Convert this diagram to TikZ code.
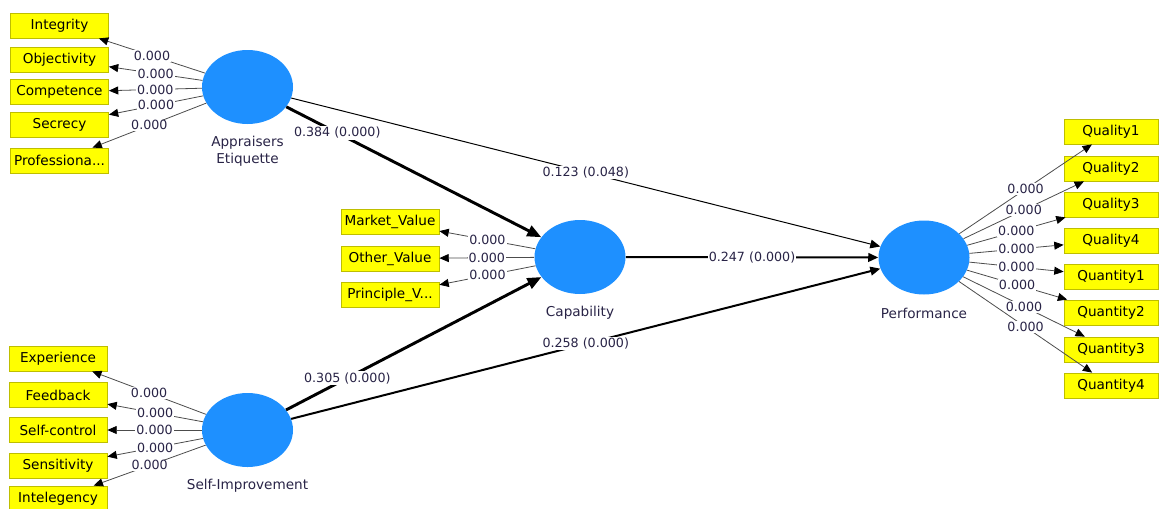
\documentclass[tikz,border=0pt]{standalone}
\usepackage{fontspec}
\setmainfont{DejaVu Sans}
\usepackage{xcolor}
\usepackage{tikz}
\usetikzlibrary{shapes.geometric,arrows.meta,positioning}
\definecolor{lvblue}{RGB}{30,144,255}
\definecolor{indyellow}{RGB}{255,255,0}
\definecolor{indedge}{RGB}{190,190,0}
\definecolor{numtext}{RGB}{40,35,70}
\tikzstyle{latent} = [ellipse, fill=lvblue, minimum width=68.25pt, minimum height=55.5pt, inner sep=0pt]
\tikzstyle{latname} = [text=numtext, font=\fontsize{10.2}{12.75}\selectfont, align=center, inner sep=0pt]
\tikzstyle{indbox} = [rectangle, fill=indyellow, draw=indedge, line width=0.6pt, minimum width=73.5pt, minimum height=18.75pt, inner sep=0pt, font=\fontsize{10.2}{12}\selectfont, text=black]
\tikzstyle{rbox} = [indbox, minimum width=70.5pt]
\tikzstyle{load} = [-{Stealth[length=7pt, width=6pt, inset=0pt, color=black]}, draw=black!70, line width=0.6pt]
\tikzstyle{arrow} = [-{Stealth[length=7.5pt, width=6.5pt, inset=0pt]}, draw=black]
\tikzstyle{strong} = [-{Stealth[length=10.5pt, width=8.5pt, inset=0pt]}, draw=black, line width=2.2pt]
\tikzstyle{num} = [fill=white, inner sep=0.8pt, text=numtext, font=\fontsize{9.5}{10}\selectfont]

\begin{document}
\begin{tikzpicture}[x=0.75pt, y=-0.75pt, node distance=42pt]
      \useasboundingbox (0,0) rectangle (1159,508);
      % latent variables
      \node[latent](AE) at (247.5,87){};
      \node[latent](SI) at (247.5,430){};
      \node[latent](cap) at (580,257){};
      \node[latent](perf) at (924,257.5){};
      \node[latname, below of = AE, yshift=-6.4pt](AElab){Appraisers\\Etiquette};
      \node[latname, below of = SI](SIlab){Self-Improvement};
      \node[latname, below of = cap](caplab){Capability};
      \node[latname, below of = perf](perflab){Performance};
      % indicators
      \node[indbox](integrity) at (59.5,25.5){Integrity};
      \node[indbox](objectivity) at (59.5,59.5){Objectivity};
      \node[indbox](competence) at (59.5,92){Competence};
      \node[indbox](secrecy) at (59.5,124.5){Secrecy};
      \node[indbox](profession) at (59.5,160.5){Professiona...};
      \node[indbox](experience) at (58,358.5){Experience};
      \node[indbox](feedback) at (58,395){Feedback};
      \node[indbox](selfcontrol) at (58,430){Self-control};
      \node[indbox](sensitivity) at (58,466){Sensitivity};
      \node[indbox](intelegency) at (58,498.5){Intelegency};
      \node[indbox](market) at (390,222){Market\_Value};
      \node[indbox](other) at (390,258.5){Other\_Value};
      \node[indbox](principle) at (390,294.5){Principle\_V...};
      \node[rbox](quality1) at (1111,131.5){Quality1};
      \node[rbox](quality2) at (1111,168.5){Quality2};
      \node[rbox](quality3) at (1111,204.5){Quality3};
      \node[rbox](quality4) at (1111,240.5){Quality4};
      \node[rbox](quantity1) at (1111,276.5){Quantity1};
      \node[rbox](quantity2) at (1111,312.5){Quantity2};
      \node[rbox](quantity3) at (1111,349.5){Quantity3};
      \node[rbox](quantity4) at (1111,385.5){Quantity4};
      % loadings
      \draw [load] (AE) -- node[num]{0.000} (integrity);
      \draw [load] (AE) -- node[num]{0.000} (objectivity);
      \draw [load] (AE) -- node[num]{0.000} (competence);
      \draw [load] (AE) -- node[num]{0.000} (secrecy);
      \draw [load] (AE) -- node[num]{0.000} (profession);
      \draw [load] (SI) -- node[num]{0.000} (experience);
      \draw [load] (SI) -- node[num]{0.000} (feedback);
      \draw [load] (SI) -- node[num]{0.000} (selfcontrol);
      \draw [load] (SI) -- node[num]{0.000} (sensitivity);
      \draw [load] (SI) -- node[num]{0.000} (intelegency);
      \draw [load] (cap) -- node[num]{0.000} (market);
      \draw [load] (cap) -- node[num]{0.000} (other);
      \draw [load] (cap) -- node[num]{0.000} (principle);
      \draw [load] (perf) -- node[num]{0.000} (quality1);
      \draw [load] (perf) -- node[num]{0.000} (quality2);
      \draw [load] (perf) -- node[num]{0.000} (quality3);
      \draw [load] (perf) -- node[num]{0.000} (quality4);
      \draw [load] (perf) -- node[num]{0.000} (quantity1);
      \draw [load] (perf) -- node[num]{0.000} (quantity2);
      \draw [load] (perf) -- node[num]{0.000} (quantity3);
      \draw [load] (perf) -- node[num]{0.000} (quantity4);
      % path coefficients
      \draw [strong] (AE) -- node[num, pos=0.2]{0.384 (0.000)} (cap);
      \draw [strong] (SI) -- node[num, pos=0.24]{0.305 (0.000)} (cap);
      \draw [arrow, line width=0.75pt] (AE) -- node[num]{0.123 (0.048)} (perf);
      \draw [arrow, line width=1.5pt] (cap) -- node[num]{0.247 (0.000)} (perf);
      \draw [arrow, line width=1.5pt] (SI) -- node[num]{0.258 (0.000)} (perf);
    \end{tikzpicture}
\end{document}
